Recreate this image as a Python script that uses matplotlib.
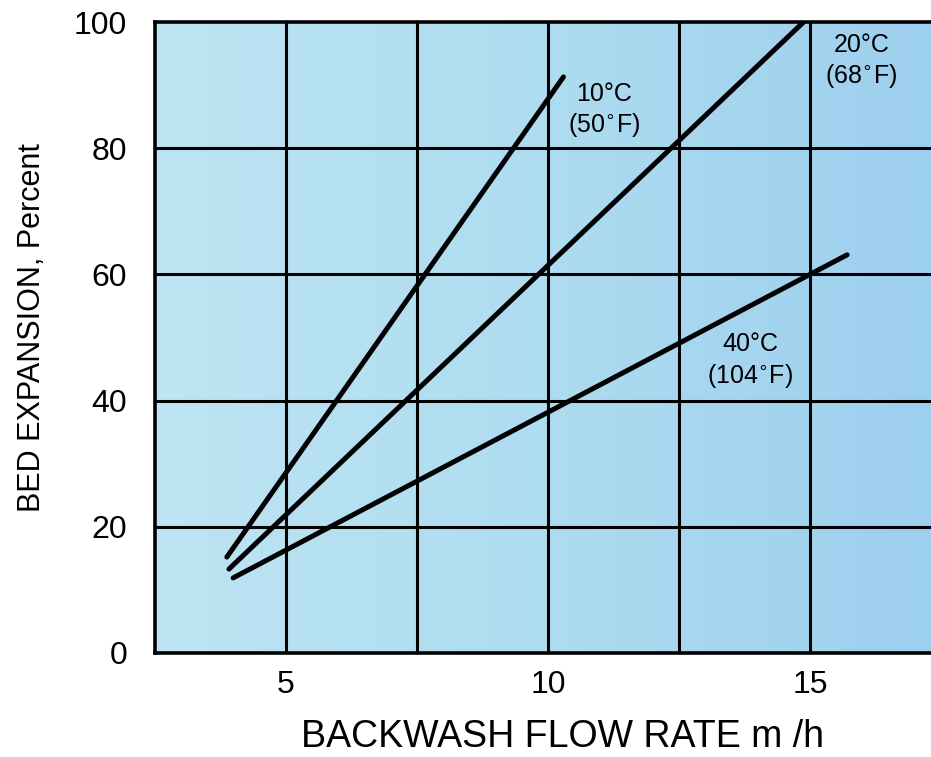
# bed expansion vs backwash flow rate
import numpy as np
import matplotlib.pyplot as plt
from matplotlib.colors import LinearSegmentedColormap

plt.rcParams['font.family'] = ['Liberation Sans', 'DejaVu Sans']

# Data (start / end of each straight line)
rate_10c = [3.87, 10.29]
exp_10c = [15.2, 91.3]
rate_20c = [3.91, 14.87]
exp_20c = [13.3, 100.0]
rate_40c = [3.99, 15.7]
exp_40c = [11.9, 63.1]

labels = ['10°C\n(50$^{\\circ}$F)', '20°C\n(68$^{\\circ}$F)', '40°C\n(104$^{\\circ}$F)']
label_pos = [(11.07, 90.5), (15.97, 98.3), (13.85, 50.8)]

xticks = [5, 10, 15]
yticks = [0, 20, 40, 60, 80, 100]

fig = plt.figure(figsize=(9.31, 7.57), dpi=100)
ax = fig.add_axes([0.1665, 0.1374, 0.8335, 0.8335])

xmin, xmax = 2.5, 17.3
ymin, ymax = 0, 100

# light blue paper, a bit bluer to the right
cmap = LinearSegmentedColormap.from_list('paper', ['#bde5f3', '#aedcf0', '#9dcfee'])
grad = np.linspace(0, 1, 256).reshape(1, -1)
ax.imshow(grad, extent=[xmin, xmax, ymin, ymax], aspect='auto', cmap=cmap, zorder=0)

# grid
for gx in [5, 7.5, 10, 12.5, 15]:
    ax.axvline(gx, color='black', lw=2.2, zorder=1)
for gy in [20, 40, 60, 80]:
    ax.axhline(gy, color='black', lw=2.2, zorder=1)

ax.plot(rate_10c, exp_10c, color='black', lw=3.6, solid_capstyle='round', zorder=3)
ax.plot(rate_20c, exp_20c, color='black', lw=3.6, solid_capstyle='round', zorder=3)
ax.plot(rate_40c, exp_40c, color='black', lw=3.6, solid_capstyle='round', zorder=3)

for txt, (tx, ty) in zip(labels, label_pos):
    ax.text(tx, ty, txt, fontsize=18, ha='center', va='top', multialignment='center',
            linespacing=1.25, zorder=4)

ax.set_xlim(xmin, xmax)
ax.set_ylim(ymin, ymax)
ax.set_xticks(xticks)
ax.set_yticks(yticks)
ax.tick_params(axis='both', length=0, labelsize=23)
ax.tick_params(axis='y', pad=20)
ax.tick_params(axis='x', pad=12)

for side in ['left', 'top', 'bottom']:
    ax.spines[side].set_linewidth(2.6)
ax.spines['right'].set_visible(False)

ax.set_xlabel('BACKWASH FLOW RATE m /h', fontsize=27, va='center')
ax.xaxis.set_label_coords(0.525, -0.133)
ax.set_ylabel('BED EXPANSION, Percent', fontsize=22, va='center')
ax.yaxis.set_label_coords(-0.158, 0.515)

fig.savefig('out.png', dpi=100)
